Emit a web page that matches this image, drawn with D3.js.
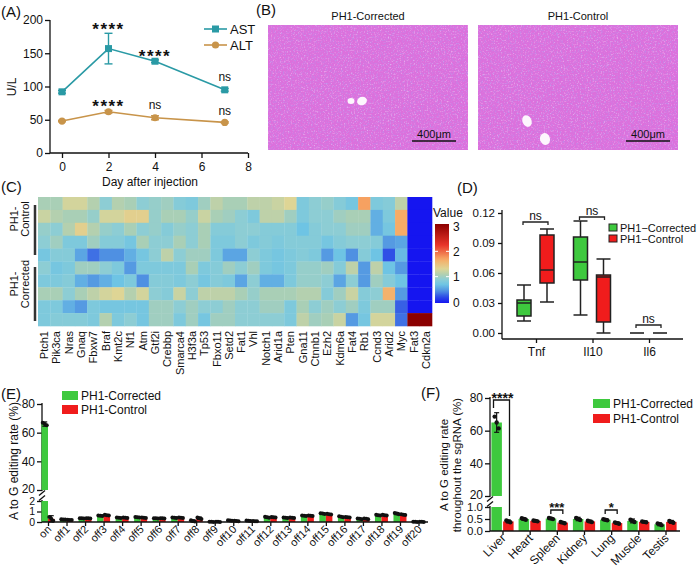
<!DOCTYPE html>
<html>
<head>
<meta charset="utf-8">
<script src="https://cdn.jsdelivr.net/npm/d3@7"></script>
<style>
  body { margin: 0; background: #fff; }
  text { font-family: Arial, "Liberation Sans", sans-serif; fill: #111; }
</style>
</head>
<body>
<div id="fig"></div>
<script>
// ---- panel A: serum enzymes
const days = [0, 2, 4, 7];
const astMean = [92, 157, 138, 95];
const astErr = [2, 23, 2, 2];
const altMean = [48, 62, 53, 46];
const altErr = [1, 2, 3, 1];
const astSig = ["", "****", "****", "ns"];
const altSig = ["", "****", "ns", "ns"];

// ---- panel C: heatmap
const genes = ["Ptch1","Pik3ca","Nras","Gnaq","Fbxw7","Braf","Kmt2c","Nf1","Atm","Gtf2i","Crebbp","Smarca4","H3f3a","Tp53","Fbxo11","Setd2","Fat1","Vhl","Notch1","Arid1a","Pten","Gna11","Ctnnb1","Ezh2","Kdm6a","Fat4","Rb1","Ccnd3","Arid2","Myc","Fat3","Cdkn2a"];
const heatRows = ["ctl1","ctl2","ctl3","ctl4","ctl5","cor1","cor2","cor3","cor4","cor5"];
const heatValues = [
  [1.05,1.05,1.25,1.25,1.1,0.9,1.1,1.05,0.9,0.95,1.0,0.85,0.8,1.0,1.15,1.05,1.05,1.15,1.15,1.2,1.3,0.8,0.9,0.95,0.85,0.75,1.7,0.8,0.85,1.15,0,0],
  [1.2,1.1,1.05,1.05,0.95,1.25,1.25,1.35,1.35,0.95,1.05,1.05,0.95,1.2,1.05,1.0,0.9,0.8,1.15,1.15,1.0,0.8,0.9,0.9,1.0,1.05,1.05,0.6,0.8,1.65,0,0],
  [0.95,0.9,1.1,1.35,1.1,0.95,0.9,1.05,0.9,0.95,0.85,0.95,0.9,1.05,0.85,0.85,0.9,0.9,0.85,0.85,0.85,0.7,0.85,0.9,0.9,1.0,1.0,0.6,0.75,1.65,0,0],
  [0.9,1.0,0.8,0.8,1.0,0.85,0.85,0.75,1.05,0.9,0.9,1.05,0.9,1.05,0.8,0.8,0.9,0.8,0.85,0.8,0.85,0.85,0.85,0.75,0.85,0.9,0.9,0.85,0.5,0.55,0,0],
  [0.75,0.85,0.85,0.55,0.35,0.45,0.45,0.6,0.75,0.9,1.15,0.9,1.0,1.0,0.8,0.55,0.55,0.9,0.8,0.75,0.8,0.85,0.8,0.5,0.7,0.45,0.85,0.7,0.25,0.65,0,0],
  [0.9,0.75,0.8,1.0,1.0,0.9,0.8,0.5,0.8,0.8,0.8,0.8,1.05,0.8,0.85,1.0,0.9,1.0,0.8,0.75,0.8,0.95,0.95,1.0,0.85,1.15,0.5,1.15,0.7,0.5,0,0],
  [0.8,0.8,0.85,0.6,0.5,0.6,0.7,0.8,0.45,0.85,0.85,0.8,0.9,0.75,0.85,0.8,0.55,0.9,0.6,0.6,0.8,0.95,0.95,0.9,0.55,0.9,0.5,1.0,0.85,0.7,0,0],
  [1.05,1.05,0.9,1.05,1.15,1.25,1.3,1.1,1.25,0.9,0.85,1.2,0.9,1.15,1.15,1.15,1.05,0.95,1.05,1.05,1.05,1.1,1.1,0.85,1.0,1.2,0.85,0.9,1.6,0.5,0,0],
  [0.8,0.8,0.6,0.5,0.8,0.75,0.75,0.75,0.75,1.0,1.0,0.9,1.0,0.9,0.9,1.0,0.9,0.9,1.0,1.0,0.8,1.05,0.9,1.0,0.9,1.0,0.8,1.0,1.0,0.3,0,0],
  [0.8,0.85,0.85,0.85,0.8,1.1,0.8,0.9,0.75,1.0,1.0,0.8,1.0,0.75,1.0,1.0,0.9,0.9,0.9,0.9,0.8,1.15,1.0,1.05,1.2,0.5,0.75,1.25,1.25,0.35,3,3]
];
const legendTicks = [0, 1, 2, 3];

// ---- panel D: cytokine boxplots [min, q1, median, q3, max]
const cytokines = ["Tnf", "Il10", "Il6"];
const boxCorrected = [[0.012,0.017,0.030,0.033,0.048],[0.018,0.053,0.071,0.096,0.112],[0,0,0,0,0]];
const boxControl = [[0.031,0.050,0.063,0.098,0.104],[0.000,0.011,0.056,0.058,0.074],[0,0,0,0,0]];
const cytoSigY = [0.111, 0.116, 0.008];

// ---- panel E: on/off target editing
const offSites = ["on","off1","off2","off3","off4","off5","off6","off7","off8","off9","off10","off11","off12","off13","off14","off15","off16","off17","off18","off19","off20"];
const offCorrected = [66,0.25,0.35,0.6,0.4,0.45,0.35,0.4,0.1,0.02,0.15,0.12,0.45,0.4,0.6,0.8,0.5,0.3,0.65,0.8,0.02];
const offControl = [0.3,0.2,0.35,0.65,0.4,0.4,0.35,0.4,0.35,0.02,0.1,0.08,0.45,0.4,0.6,0.75,0.45,0.3,0.65,0.7,0.02];
const offCorrectedSd = [1.5,0.03,0.03,0.05,0.03,0.03,0.03,0.04,0.1,0.02,0.04,0.03,0.08,0.05,0.05,0.06,0.06,0.05,0.06,0.1,0.02];
const offControlSd = [0.3,0.03,0.03,0.05,0.03,0.04,0.03,0.04,0.12,0.02,0.03,0.03,0.05,0.05,0.05,0.05,0.05,0.05,0.05,0.06,0.02];

// ---- panel F: tissue editing
const tissues = ["Liver","Heart","Spleen","Kidney","Lung","Muscle","Testis"];
const tisCorrected = [65, 0.5, 0.52, 0.5, 0.47, 0.42, 0.28];
const tisControl = [0.4, 0.42, 0.35, 0.4, 0.33, 0.38, 0.38];
const tisCorrectedSd = [6, 0.05, 0.04, 0.07, 0.04, 0.08, 0.06];
const tisControlSd = [0.06, 0.03, 0.04, 0.05, 0.05, 0.03, 0.06];
const tisSig = [{i: 0, t: "****"}, {i: 2, t: "***"}, {i: 4, t: "*"}];

const GREEN = "#3ec93e", RED = "#f01c1c";

const svg = d3.select("#fig").append("svg")
  .attr("width", 700).attr("height", 573)
  .attr("viewBox", [0, 0, 700, 573]);

function label(x, y, t) {
  svg.append("text").attr("x", x).attr("y", y).style("font-size", "15px").text(t);
}
label(1, 17, "(A)"); label(256, 15, "(B)"); label(1, 192, "(C)");
label(457, 193, "(D)"); label(1, 399, "(E)"); label(421, 398, "(F)");

function styleAxis(g, fs) {
  g.select(".domain").remove();
  g.selectAll("line").attr("stroke", "#111").attr("stroke-width", 1.3);
  g.selectAll("text").style("font-size", fs || "12px");
}

// ================= A =================
(function () {
  const x = d3.scaleLinear().domain([0, 8]).range([62, 248]);
  const y = d3.scaleLinear().domain([0, 200]).range([153, 20]);
  const g = svg.append("g");
  g.append("g").attr("transform", "translate(50,0)")
    .call(d3.axisLeft(y).tickValues([0, 50, 100, 150, 200]).tickSize(5).tickPadding(2))
    .call(a => styleAxis(a));
  g.append("g").attr("transform", "translate(0,153)")
    .call(d3.axisBottom(x).tickValues([0, 2, 4, 6, 8]).tickSize(5).tickPadding(4))
    .call(a => styleAxis(a));
  g.append("line").attr("x1", 50).attr("x2", 50).attr("y1", 20).attr("y2", 153).attr("stroke", "#111").attr("stroke-width", 1.3);
  g.append("line").attr("x1", 50).attr("x2", 248).attr("y1", 153).attr("y2", 153).attr("stroke", "#111").attr("stroke-width", 1.3);
  g.append("text").attr("transform", "translate(16,87) rotate(-90)").attr("text-anchor", "middle").style("font-size", "12px").text("U/L");
  g.append("text").attr("x", 150).attr("y", 186).attr("text-anchor", "middle").style("font-size", "12px").text("Day after injection");

  const series = [
    {m: astMean, e: astErr, c: "#2a9aa5", shape: "square", sig: astSig},
    {m: altMean, e: altErr, c: "#c8944a", shape: "circle", sig: altSig}
  ];
  const line = d3.line().x((d, i) => x(days[i])).y(d => y(d));
  series.forEach(s => {
    g.append("path").datum(s.m).attr("d", line).attr("fill", "none").attr("stroke", s.c).attr("stroke-width", 1.6);
    s.m.forEach((v, i) => {
      const cx = x(days[i]);
      g.append("line").attr("x1", cx).attr("x2", cx).attr("y1", y(v - s.e[i])).attr("y2", y(v + s.e[i])).attr("stroke", s.c).attr("stroke-width", 1.4);
      [v - s.e[i], v + s.e[i]].forEach(w => g.append("line").attr("x1", cx - 4).attr("x2", cx + 4).attr("y1", y(w)).attr("y2", y(w)).attr("stroke", s.c).attr("stroke-width", 1.4));
      if (s.shape === "square") g.append("rect").attr("x", cx - 3.5).attr("y", y(v) - 3.5).attr("width", 7).attr("height", 7).attr("fill", s.c);
      else g.append("circle").attr("cx", cx).attr("cy", y(v)).attr("r", 3.6).attr("fill", s.c);
      if (s.sig[i]) {
        const star = s.sig[i] !== "ns";
        g.append("text").attr("x", cx).attr("y", y(v + s.e[i]) - (star ? -2 : 7))
          .attr("text-anchor", "middle")
          .style("font-size", star ? "17px" : "12px").style("letter-spacing", star ? "1.5px" : "0")
          .style("font-weight", star ? "bold" : "normal")
          .text(s.sig[i]);
      }
    });
  });
  // legend
  [["AST", 29, series[0]], ["ALT", 45, series[1]]].forEach(([t, ly, s]) => {
    g.append("line").attr("x1", 204).attr("x2", 227).attr("y1", ly).attr("y2", ly).attr("stroke", s.c).attr("stroke-width", 1.6);
    if (s.shape === "square") g.append("rect").attr("x", 212).attr("y", ly - 3.5).attr("width", 7).attr("height", 7).attr("fill", s.c);
    else g.append("circle").attr("cx", 215.5).attr("cy", ly).attr("r", 3.6).attr("fill", s.c);
    g.append("text").attr("x", 230).attr("y", ly + 5).style("font-size", "13px").text(t);
  });
})();

// ================= B =================
(function () {
  const defs = svg.append("defs");
  const f1 = defs.append("filter").attr("id", "speck").attr("x", 0).attr("y", 0).attr("width", 1).attr("height", 1);
  f1.append("feTurbulence").attr("type", "fractalNoise").attr("baseFrequency", 0.6).attr("numOctaves", 2).attr("seed", 4);
  f1.append("feColorMatrix").attr("type", "matrix").attr("values", "0 0 0 0 0.52  0 0 0 0 0.26  0 0 0 0 0.82  2.4 0 0 0 -1.15");
  const f2 = defs.append("filter").attr("id", "speckW").attr("x", 0).attr("y", 0).attr("width", 1).attr("height", 1);
  f2.append("feTurbulence").attr("type", "fractalNoise").attr("baseFrequency", 0.7).attr("numOctaves", 2).attr("seed", 11);
  f2.append("feColorMatrix").attr("type", "matrix").attr("values", "0 0 0 0 1  0 0 0 0 0.8  0 0 0 0 1  0 2.4 0 0 -1.3");

  const panels = [
    {t: "PH1-Corrected", x: 268, holes: [[351, 101, 3.5, 3, 0], [362, 101, 5, 4.2, -20]], bar: [412, 456]},
    {t: "PH1-Control", x: 478, holes: [[527, 121, 4.5, 6, -25], [545, 139, 5, 6, -15]], bar: [626, 670]}
  ];
  panels.forEach(p => {
    svg.append("text").attr("x", p.x + 100).attr("y", 20).attr("text-anchor", "middle").style("font-size", "11px").text(p.t);
    svg.append("rect").attr("x", p.x).attr("y", 25).attr("width", 200).attr("height", 125).attr("fill", "#dc70dc");
    svg.append("rect").attr("x", p.x).attr("y", 25).attr("width", 200).attr("height", 125).attr("filter", "url(#speck)");
    svg.append("rect").attr("x", p.x).attr("y", 25).attr("width", 200).attr("height", 125).attr("filter", "url(#speckW)").attr("opacity", 0.55);
    p.holes.forEach(h => svg.append("ellipse").attr("transform", `translate(${h[0]},${h[1]}) rotate(${h[4]})`)
      .attr("rx", h[2]).attr("ry", h[3]).attr("fill", "#fdf6fd"));
    svg.append("line").attr("x1", p.bar[0]).attr("x2", p.bar[1]).attr("y1", 141).attr("y2", 141).attr("stroke", "#111").attr("stroke-width", 1.6);
    svg.append("text").attr("x", (p.bar[0] + p.bar[1]) / 2).attr("y", 138).attr("text-anchor", "middle").style("font-size", "11px").text("400μm");
  });
})();

// ================= C =================
(function () {
  const x = d3.scaleBand().domain(genes).range([38, 432]);
  const y = d3.scaleBand().domain(heatRows).range([197, 326]);
  const color = d3.scaleLinear()
    .domain([0, 0.25, 0.45, 0.7, 0.9, 1.05, 1.3, 1.65, 2.2, 3])
    .range(["#1515f0", "#2f50e6", "#4f90e2", "#6ec4e4", "#8dcdd4", "#a9cfb6", "#ded595", "#f7ac66", "#e8342a", "#8b0000"]);
  const cells = [];
  heatValues.forEach((row, r) => row.forEach((v, c) => cells.push({r: heatRows[r], g: genes[c], v})));
  svg.append("g").selectAll("rect").data(cells).join("rect")
    .attr("x", d => x(d.g)).attr("y", d => y(d.r))
    .attr("width", x.bandwidth() + 0.3).attr("height", y.bandwidth() + 0.3)
    .attr("fill", d => color(d.v));
  svg.append("g").selectAll("text").data(genes).join("text")
    .attr("transform", d => `translate(${x(d) + x.bandwidth() / 2 + 4},331) rotate(-90)`)
    .attr("text-anchor", "end").style("font-size", "11px").text(d => d);

  // group labels
  [[205, 255, 219, ["PH1-", "Control"]], [267, 321, 284, ["PH1-", "Corrected"]]].forEach(([y1, y2, cy, lines]) => {
    svg.append("line").attr("x1", 35).attr("x2", 35).attr("y1", y1).attr("y2", y2).attr("stroke", "#333").attr("stroke-width", 2.5);
    lines.forEach((t, i) => svg.append("text").attr("transform", `translate(${18 + i * 11},${cy}) rotate(-90)`)
      .attr("text-anchor", "middle").style("font-size", "11px").text(t));
  });

  // colour legend
  const ly = d3.scaleLinear().domain([0, 3]).range([302, 226]);
  const grad = svg.append("defs").append("linearGradient").attr("id", "heatGrad")
    .attr("x1", 0).attr("x2", 0).attr("y1", 1).attr("y2", 0);
  d3.range(0, 3.01, 0.1).forEach(v => grad.append("stop").attr("offset", v / 3).attr("stop-color", color(v)));
  svg.append("rect").attr("x", 435).attr("y", 224).attr("width", 14).attr("height", 79).attr("fill", "url(#heatGrad)");
  svg.append("text").attr("x", 433).attr("y", 217).style("font-size", "12px").text("Value");
  legendTicks.forEach(v => {
    svg.append("text").attr("x", 453).attr("y", ly(v) + 4.5).style("font-size", "12px").text(v);
    if (v === 1 || v === 2) {
      svg.append("line").attr("x1", 435).attr("x2", 438).attr("y1", ly(v)).attr("y2", ly(v)).attr("stroke", "#fff").attr("stroke-width", 1);
      svg.append("line").attr("x1", 446).attr("x2", 449).attr("y1", ly(v)).attr("y2", ly(v)).attr("stroke", "#fff").attr("stroke-width", 1);
    }
  });
})();

// ================= D =================
(function () {
  const y = d3.scaleLinear().domain([0, 0.12]).range([333, 213]);
  const x = d3.scalePoint().domain(cytokines).range([536, 649]);
  const g = svg.append("g");
  g.append("g").attr("transform", "translate(502,0)")
    .call(d3.axisLeft(y).tickValues([0, 0.03, 0.06, 0.09, 0.12]).tickFormat(d3.format(".2f")).tickSize(4).tickPadding(3))
    .call(a => styleAxis(a, "11.5px"));
  g.append("g").attr("transform", "translate(0,339)")
    .call(d3.axisBottom(x).tickSize(4).tickPadding(4))
    .call(a => styleAxis(a, "12px"));
  g.append("line").attr("x1", 502).attr("x2", 502).attr("y1", 210).attr("y2", 339).attr("stroke", "#111").attr("stroke-width", 1.3);
  g.append("line").attr("x1", 502).attr("x2", 683).attr("y1", 339).attr("y2", 339).attr("stroke", "#111").attr("stroke-width", 1.3);

  const bw = 14;
  [[boxCorrected, -12, GREEN], [boxControl, 11, RED]].forEach(([data, off, col]) => {
    data.forEach((b, i) => {
      const cx = x(cytokines[i]) + off;
      if (b[4] === 0) {
        g.append("line").attr("x1", cx - bw / 2).attr("x2", cx + bw / 2).attr("y1", y(0)).attr("y2", y(0)).attr("stroke", "#222").attr("stroke-width", 1.6);
        return;
      }
      g.append("line").attr("x1", cx).attr("x2", cx).attr("y1", y(b[0])).attr("y2", y(b[4])).attr("stroke", "#222").attr("stroke-width", 1.5);
      [b[0], b[4]].forEach(w => g.append("line").attr("x1", cx - bw / 2).attr("x2", cx + bw / 2).attr("y1", y(w)).attr("y2", y(w)).attr("stroke", "#222").attr("stroke-width", 1.5));
      g.append("rect").attr("x", cx - bw / 2).attr("y", y(b[3])).attr("width", bw).attr("height", y(b[1]) - y(b[3]))
        .attr("fill", col).attr("stroke", "#222").attr("stroke-width", 1.5);
      g.append("line").attr("x1", cx - bw / 2).attr("x2", cx + bw / 2).attr("y1", y(b[2])).attr("y2", y(b[2])).attr("stroke", "#222").attr("stroke-width", 1.5);
    });
  });
  cytoSigY.forEach((v, i) => {
    const x1 = x(cytokines[i]) - 13, x2 = x(cytokines[i]) + 12, by = y(v);
    g.append("path").attr("d", `M${x1},${by + 3}V${by}H${x2}V${by + 3}`).attr("fill", "none").attr("stroke", "#222").attr("stroke-width", 1.3);
    g.append("text").attr("x", (x1 + x2) / 2).attr("y", by - 2).attr("text-anchor", "middle").style("font-size", "12px").text("ns");
  });
  [["PH1\u2212Corrected", GREEN, 232], ["PH1\u2212Control", RED, 243]].forEach(([t, c, ly]) => {
    g.append("rect").attr("x", 609).attr("y", ly - 8).attr("width", 8).attr("height", 7).attr("fill", c).attr("stroke", "#222").attr("stroke-width", 1);
    g.append("text").attr("x", 620).attr("y", ly).style("font-size", "11px").text(t);
  });
})();

// ---- broken axis bar chart helper (E and F)
function brokenBars(o) {
  const low = d3.scaleLinear().domain([0, o.lowMax]).range([o.y0, o.yLowTop]);
  const high = d3.scaleLinear().domain([20, 80]).range([o.yHighBottom, o.yHighTop]);
  const yv = v => v <= o.lowMax ? low(v) : high(v);
  const x = d3.scalePoint().domain(o.cats).range(o.xRange);
  const g = svg.append("g");

  g.append("g").attr("transform", `translate(${o.ax},0)`)
    .call(d3.axisLeft(high).tickValues([20, 40, 60, 80]).tickSize(5).tickPadding(2)).call(a => styleAxis(a))
    .call(a => a.selectAll("text").filter(d => d === 20).attr("dy", "0.2em"));
  g.append("g").attr("transform", `translate(${o.ax},0)`)
    .call(d3.axisLeft(low).tickValues(o.lowTicks).tickFormat(o.lowFmt).tickSize(5).tickPadding(2)).call(a => styleAxis(a, o.lowFs));
  g.append("line").attr("x1", o.ax).attr("x2", o.ax).attr("y1", o.yHighTop - 1).attr("y2", o.yHighBottom + 1).attr("stroke", "#111").attr("stroke-width", 1.3);
  g.append("line").attr("x1", o.ax).attr("x2", o.ax).attr("y1", o.yLowTop - 1).attr("y2", o.y0).attr("stroke", "#111").attr("stroke-width", 1.3);
  [o.yHighBottom + 3, o.yLowTop - 3].forEach(yy => g.append("line").attr("x1", o.ax - 3).attr("x2", o.ax + 3).attr("y1", yy + 2.5).attr("y2", yy - 2.5).attr("stroke", "#111").attr("stroke-width", 1.3));

  const drawBar = (cx, w, v, col) => {
    const top = Math.min(v, o.lowMax);
    g.append("rect").attr("x", cx).attr("y", low(top)).attr("width", w).attr("height", low(0) - low(top)).attr("fill", col);
    if (v > o.lowMax) g.append("rect").attr("x", cx).attr("y", high(v)).attr("width", w).attr("height", high(20) - high(v)).attr("fill", col);
  };
  const drawDots = (cx, v, sd) => {
    const lo = Math.max(v - sd, 0);
    g.append("line").attr("x1", cx).attr("x2", cx).attr("y1", yv(lo)).attr("y2", yv(v + sd)).attr("stroke", "#111").attr("stroke-width", 1.2);
    [lo, v + sd].forEach(w => g.append("line").attr("x1", cx - 2.5).attr("x2", cx + 2.5).attr("y1", yv(w)).attr("y2", yv(w)).attr("stroke", "#111").attr("stroke-width", 1.2));
    [[-2, v + sd * 0.6], [0, v], [2, v - sd * 0.6]].forEach(([dx, w]) =>
      g.append("circle").attr("cx", cx + dx).attr("cy", yv(Math.max(w, 0))).attr("r", o.r).attr("fill", "#111"));
  };
  o.cats.forEach((c, i) => {
    const cx = x(c);
    drawBar(cx - o.bw - o.gap, o.bw, o.green[i], GREEN);
    drawBar(cx + o.gap, o.bw, o.red[i], RED);
    drawDots(cx - o.bw / 2 - o.gap, o.green[i], o.greenSd[i]);
    drawDots(cx + o.bw / 2 + o.gap, o.red[i], o.redSd[i]);
  });

  g.append("g").attr("transform", `translate(0,${o.y0})`)
    .call(d3.axisBottom(x).tickSize(4).tickFormat(""))
    .call(a => styleAxis(a));
  g.append("line").attr("x1", o.ax).attr("x2", o.xEnd).attr("y1", o.y0).attr("y2", o.y0).attr("stroke", "#111").attr("stroke-width", 1.5);
  g.selectAll(".xl").data(o.cats).join("text")
    .attr("transform", d => `translate(${x(d) + 4},${o.y0 + 8}) rotate(-45)`)
    .attr("text-anchor", "end").style("font-size", o.xfs).text(d => d);

  o.legend.forEach(([t, c, ly]) => {
    g.append("rect").attr("x", o.legX).attr("y", ly - 9).attr("width", o.legW).attr("height", 9).attr("fill", c);
    g.append("text").attr("x", o.legX + o.legW + 3).attr("y", ly).style("font-size", "12px").text(t);
  });
  return {g, x, yv, low, high};
}

// ================= E =================
(function () {
  brokenBars({
    cats: offSites, green: offCorrected, red: offControl, greenSd: offCorrectedSd, redSd: offControlSd,
    lowMax: 2, lowTicks: [0, 1, 2], lowFmt: d3.format("d"), lowFs: "10.5px",
    y0: 522, yLowTop: 501, yHighBottom: 490, yHighTop: 404,
    ax: 42, xRange: [48, 418.5], xEnd: 428, bw: 6.5, gap: 0, r: 2, xfs: "11px",
    legX: 62, legW: 16, legend: [["PH1-Corrected", GREEN, 400], ["PH1-Control", RED, 414]]
  });
  svg.append("text").attr("transform", "translate(18,461) rotate(-90)").attr("text-anchor", "middle")
    .style("font-size", "12px").text("A to G editing rate (%)");
})();

// ================= F =================
(function () {
  const r = brokenBars({
    cats: tissues, green: tisCorrected, red: tisControl, greenSd: tisCorrectedSd, redSd: tisControlSd,
    lowMax: 1, lowTicks: [0, 0.5, 1], lowFmt: d3.format(".1f"), lowFs: "11.5px",
    y0: 531, yLowTop: 507, yHighBottom: 496, yHighTop: 398,
    ax: 490, xRange: [502.5, 665.5], xEnd: 680, bw: 10.5, gap: 0.6, r: 2.2, xfs: "12px",
    legX: 593, legW: 17, legend: [["PH1-Corrected", GREEN, 408], ["PH1-Control", RED, 423]]
  });
  const g = r.g;
  tisSig.forEach(s => {
    const cx = r.x(tissues[s.i]);
    const x1 = cx - 6, x2 = cx + 6;
    if (s.i === 0) {
      g.append("path").attr("d", `M${x1 - 3},408V400H${x2 + 1}V${r.yv(tisControl[0] + tisControlSd[0]) - 4}`)
        .attr("fill", "none").attr("stroke", "#111").attr("stroke-width", 1.3);
      g.append("text").attr("x", cx).attr("y", 403).attr("text-anchor", "middle").style("font-size", "14px").style("font-weight", "bold").text(s.t);
    } else {
      g.append("path").attr("d", `M${x1},514V510H${x2}V514`).attr("fill", "none").attr("stroke", "#111").attr("stroke-width", 1.3);
      g.append("text").attr("x", cx).attr("y", 512).attr("text-anchor", "middle").style("font-size", "13px").style("font-weight", "bold").text(s.t);
    }
  });
  svg.append("text").attr("transform", "translate(461,465) rotate(-90)").attr("text-anchor", "middle")
    .style("font-size", "11.5px")
    .call(t => {
      t.append("tspan").attr("x", 0).attr("dy", "-1.1em").text("A to G editing rate");
      t.append("tspan").attr("x", 0).attr("dy", "1.1em").text("throughout the sgRNA (%)");
    });
})();
</script>
</body>
</html>
